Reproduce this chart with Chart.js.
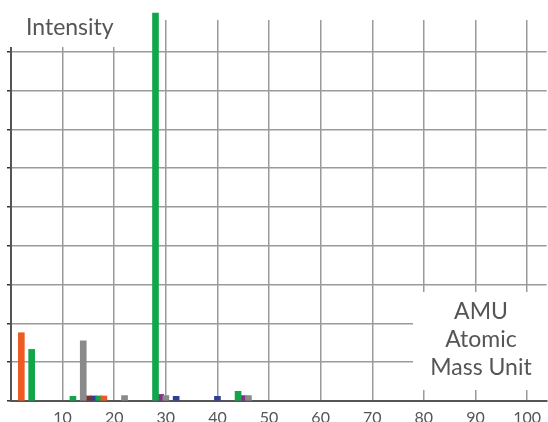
<!DOCTYPE html>
<html>
<head>
<meta charset="utf-8">
<script src="https://cdn.jsdelivr.net/npm/chart.js@4/dist/chart.umd.min.js"></script>
<style>
  html, body { margin: 0; padding: 0; background: #fff; }
  #wrap { width: 548px; height: 422px; }
</style>
</head>
<body>
<div id="wrap"><canvas id="grafikMassa"></canvas></div>
<script>
// Data spektrum massa (AMU, intensitas)
const orangePoints = [[2, 1.76], [18, 0.13]];
const greenPoints  = [[4, 1.33], [12, 0.12], [17, 0.13], [28, 10.0], [44, 0.25]];
const grayPoints   = [[14, 1.55], [22, 0.14], [30, 0.14], [46, 0.14]];
const brownPoints  = [[15, 0.13]];
const bluePoints   = [[16, 0.13], [32, 0.12], [40, 0.12]];
const purplePoints = [[29, 0.17], [45, 0.14]];
const xTickLabels  = [10, 20, 30, 40, 50, 60, 70, 80, 90, 100];

const FONT = 'Lato, "Open Sans", sans-serif';

function toXY(points) {
    return points.map(p => ({ x: p[0], y: p[1] }));
}

function seri(label, points, warna) {
    return {
        label: label,
        data: toXY(points),
        backgroundColor: warna,
        borderWidth: 0,
        barThickness: 6,
        grouped: false,
        clip: false
    };
}

// Kotak putih + teks judul sumbu
const labelPlugin = {
    id: 'labelPlugin',
    beforeDatasetsDraw(chart) {
        const ctx = chart.ctx;
        ctx.save();
        ctx.fillStyle = '#fff';
        ctx.fillRect(0, 0, 135, 47);
        ctx.fillRect(413, 292, 135, 98);

        ctx.fillStyle = '#555';
        ctx.font = '23px ' + FONT;
        ctx.textBaseline = 'alphabetic';
        ctx.textAlign = 'left';
        ctx.fillText('Intensity', 26, 35);

        ctx.textAlign = 'center';
        ctx.fillText('AMU', 481, 319);
        ctx.fillText('Atomic', 481, 347);
        ctx.fillText('Mass Unit', 481, 375);
        ctx.restore();
    }
};

const ctx = document.getElementById('grafikMassa').getContext('2d');

new Chart(ctx, {
    type: 'bar',
    data: {
        datasets: [
            seri('Orange', orangePoints, '#ee5a24'),
            seri('Green', greenPoints, '#12a64b'),
            seri('Gray', grayPoints, '#8a8a8a'),
            seri('Brown', brownPoints, '#7d2e2e'),
            seri('Blue', bluePoints, '#2f3f93'),
            seri('Purple', purplePoints, '#8a2e8c')
        ]
    },
    options: {
        responsive: true,
        maintainAspectRatio: false,
        animation: false,
        layout: { padding: { top: 20, right: 0, left: 0, bottom: 0 } },
        plugins: {
            legend: { display: false },
            tooltip: { enabled: false }
        },
        scales: {
            x: {
                type: 'linear',
                min: 0,
                max: 103.8,
                offset: false,
                afterFit(scale) { scale.height = 21; },
                afterBuildTicks(scale) {
                    scale.ticks = [0].concat(xTickLabels).map(v => ({ value: v }));
                },
                ticks: {
                    color: '#555',
                    padding: 7,
                    maxRotation: 0,
                    font: { family: FONT, size: 16 },
                    callback: v => (v === 0 ? '' : v)
                },
                grid: {
                    offset: false,
                    color: '#9a9a9a',
                    lineWidth: 1.5,
                    drawTicks: false
                },
                border: { color: '#555', width: 2 }
            },
            y: {
                min: 0,
                max: 9.82,
                afterFit(scale) { scale.width = 11; },
                afterBuildTicks(scale) {
                    scale.ticks = scale.ticks.filter(t => Number.isInteger(t.value));
                },
                ticks: { display: false, stepSize: 1 },
                grid: {
                    color: '#9a9a9a',
                    lineWidth: 1.5,
                    tickLength: 4,
                    tickColor: '#333'
                },
                border: { color: '#555', width: 2 }
            }
        }
    },
    plugins: [labelPlugin]
});
</script>
</body>
</html>
